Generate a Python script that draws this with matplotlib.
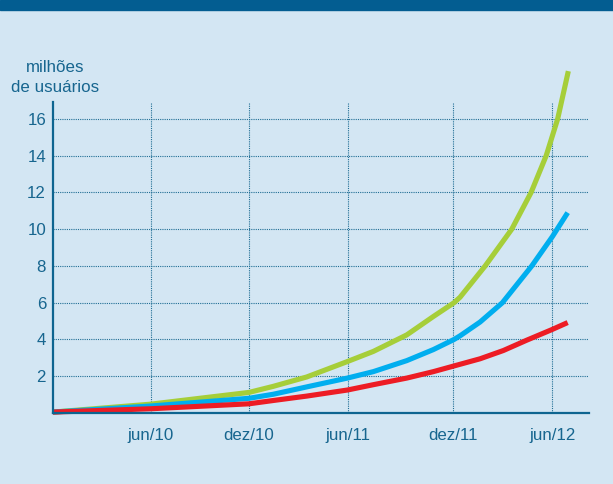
import matplotlib
matplotlib.use("Agg")
import matplotlib.pyplot as plt
from matplotlib.patches import Rectangle

# x in months-ish units (left axis = 0)
tick_pos = [5.95, 11.95, 17.96, 24.41, 30.45]
tick_labels = ["jun/10", "dez/10", "jun/11", "dez/11", "jun/12"]
y_ticks = [2, 4, 6, 8, 10, 12, 14, 16]

green_x = [0, 5.95, 11.95, 13.43, 15.47, 17.95, 19.53, 21.57, 23.19, 24.45, 24.82,
           26.35, 27.97, 29.15, 30.07, 30.77, 31.12, 31.42]
green_y = [0.05, 0.48, 1.12, 1.45, 1.96, 2.8, 3.35, 4.25, 5.25, 6.0, 6.3,
           8.0, 10.0, 12.0, 14.0, 16.0, 17.4, 18.6]

blue_x = [0, 5.95, 11.95, 13.43, 15.47, 17.95, 19.53, 21.57, 23.19, 24.45, 24.82,
          26.04, 27.4, 29.19, 30.45, 31.38]
blue_y = [0.05, 0.38, 0.8, 1.02, 1.42, 1.9, 2.25, 2.85, 3.45, 4.0, 4.2,
          4.95, 6.0, 8.0, 9.6, 10.9]

red_x = [0, 5.95, 11.95, 13.43, 15.47, 17.95, 19.53, 21.57, 23.19, 24.45, 26.04,
         27.46, 28.88, 30.45, 31.38]
red_y = [0.05, 0.23, 0.5, 0.68, 0.92, 1.25, 1.54, 1.9, 2.25, 2.56, 2.95,
         3.4, 3.96, 4.55, 4.92]

bg = "#d3e6f3"
dark = "#035d91"
txt = "#17668f"

plt.rcParams["font.family"] = ["Liberation Sans", "DejaVu Sans"]

fig = plt.figure(figsize=(6.13, 4.84), dpi=100, facecolor=bg)
fig.patches.append(Rectangle((0, 1 - 10 / 484), 1, 10 / 484, transform=fig.transFigure,
                             color=dark, zorder=0))
ax = fig.add_axes([53 / 613, 1 - 413 / 484, (589 - 53) / 613, (413 - 102) / 484])
ax.set_facecolor(bg)

ax.plot(green_x, green_y, color="#a6ce39", lw=3.7, solid_capstyle="butt",
        solid_joinstyle="round", clip_on=False, zorder=3)
ax.plot(blue_x, blue_y, color="#00aeef", lw=3.7, solid_capstyle="butt",
        solid_joinstyle="round", clip_on=False, zorder=4)
ax.plot(red_x, red_y, color="#ed1c24", lw=3.7, solid_capstyle="butt",
        solid_joinstyle="round", clip_on=False, zorder=5)

ax.set_xlim(0, 32.68)
ax.set_ylim(0, 16.92)
ax.set_xticks(tick_pos)
ax.set_xticklabels(tick_labels)
ax.set_yticks(y_ticks)
ax.tick_params(length=0, labelsize=12.2, labelcolor=txt)
ax.tick_params(axis="x", pad=11)
ax.tick_params(axis="y", pad=5)
ax.grid(True, color="#1f6d94", lw=0.8, ls=(0, (1, 1)))
ax.set_axisbelow(True)

for s in ["top", "right"]:
    ax.spines[s].set_visible(False)
for s in ["left", "bottom"]:
    ax.spines[s].set_color("#0e6590")
    ax.spines[s].set_linewidth(1.6)
    ax.spines[s].set_zorder(6)

fig.text(55 / 613, 1 - 77.5 / 484, "milhões\nde usuários", ha="center", va="center",
         multialignment="center", fontsize=12.2, color=txt, linespacing=1.45)

fig.savefig("out.png", dpi=100, facecolor=bg)
